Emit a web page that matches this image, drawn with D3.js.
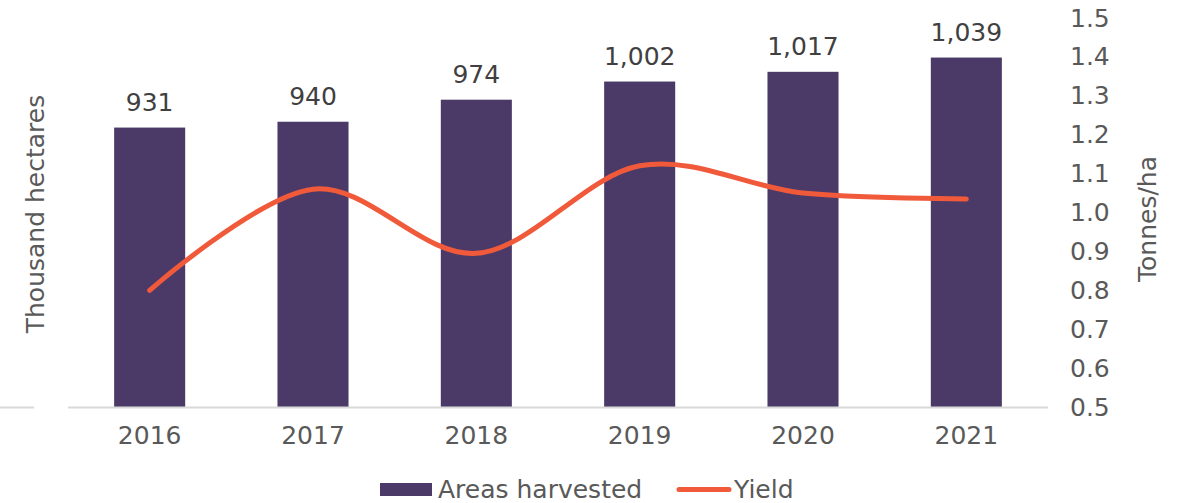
<!DOCTYPE html>
<html>
<head>
<meta charset="utf-8">
<script src="https://cdn.jsdelivr.net/npm/d3@7.9.0/dist/d3.min.js"></script>
<style>
  body { margin: 0; background: #fff; }
  svg { display: block; font-family: "DejaVu Sans", sans-serif; }
</style>
</head>
<body>
<svg id="chart" width="1178" height="503"></svg>
<script>
const years = ['2016', '2017', '2018', '2019', '2020', '2021'];
const areas = [931, 940, 974, 1002, 1017, 1039];
const yields = [0.80, 1.06, 0.895, 1.12, 1.05, 1.035];
const yieldTicks = [0.5, 0.6, 0.7, 0.8, 0.9, 1.0, 1.1, 1.2, 1.3, 1.4, 1.5];

const barColor = '#4b3a68';
const lineColor = '#f05a3a';
const fontSize = 25;

const svg = d3.select('#chart');
const plotLeft = 68, plotRight = 1048, plotTop = 18, plotBottom = 407;

let x = d3.scaleBand().domain(years).range([plotLeft, plotRight]).paddingInner(0.565).paddingOuter(0.2825);
let yLeft = d3.scaleLinear().domain([500, 1100]).range([plotBottom, plotTop]);
let yRight = d3.scaleLinear().domain([0.5, 1.5]).range([plotBottom, plotTop]);

// bars
svg.selectAll('rect.bar')
  .data(years)
  .join('rect')
  .attr('class', 'bar')
  .attr('x', d => x(d))
  .attr('width', x.bandwidth())
  .attr('y', (d, i) => yLeft(areas[i]))
  .attr('height', (d, i) => plotBottom - yLeft(areas[i]))
  .attr('fill', barColor);

// bar value labels
svg.selectAll('text.val')
  .data(years)
  .join('text')
  .attr('class', 'val')
  .attr('x', d => x(d) + x.bandwidth() / 2)
  .attr('y', (d, i) => yLeft(areas[i]) - 17)
  .attr('text-anchor', 'middle')
  .attr('font-size', fontSize)
  .attr('fill', '#404040')
  .text((d, i) => d3.format(',')(areas[i]));

// baseline
svg.append('line')
  .attr('x1', plotLeft).attr('x2', plotRight)
  .attr('y1', plotBottom + 0.5).attr('y2', plotBottom + 0.5)
  .attr('stroke', '#d9d9d9').attr('stroke-width', 2);
svg.append('line')
  .attr('x1', 0).attr('x2', 34)
  .attr('y1', plotBottom + 0.5).attr('y2', plotBottom + 0.5)
  .attr('stroke', '#d9d9d9').attr('stroke-width', 2);

// x axis
let xAxis = svg.append('g')
  .attr('transform', `translate(0,${plotBottom})`)
  .call(d3.axisBottom(x).tickSize(0).tickPadding(19));
xAxis.select('.domain').remove();
xAxis.selectAll('text')
  .attr('font-size', fontSize)
  .attr('font-family', '"DejaVu Sans", sans-serif')
  .attr('fill', '#595959');

// right axis
let yAxis = svg.append('g')
  .attr('transform', `translate(1070,0)`)
  .call(d3.axisRight(yRight).tickValues(yieldTicks).tickFormat(d3.format('.1f')).tickSize(0).tickPadding(0));
yAxis.select('.domain').remove();
yAxis.selectAll('text')
  .attr('font-size', fontSize)
  .attr('font-family', '"DejaVu Sans", sans-serif')
  .attr('fill', '#595959');

// yield line
let line = d3.line()
  .x((d, i) => x(years[i]) + x.bandwidth() / 2)
  .y(d => yRight(d))
  .curve(d3.curveCardinal.tension(0));

svg.append('path')
  .datum(yields)
  .attr('d', line)
  .attr('fill', 'none')
  .attr('stroke', lineColor)
  .attr('stroke-width', 5)
  .attr('stroke-linecap', 'round');

// axis titles
svg.append('text')
  .attr('transform', 'translate(44,214) rotate(-90)')
  .attr('text-anchor', 'middle')
  .attr('font-size', fontSize)
  .attr('fill', '#595959')
  .text('Thousand hectares');

svg.append('text')
  .attr('transform', 'translate(1156,219) rotate(-90)')
  .attr('text-anchor', 'middle')
  .attr('font-size', fontSize)
  .attr('fill', '#595959')
  .text('Tonnes/ha');

// legend
let legend = svg.append('g');
legend.append('rect')
  .attr('x', 380).attr('y', 483).attr('width', 52).attr('height', 13)
  .attr('fill', barColor);
legend.append('text')
  .attr('x', 438).attr('y', 498)
  .attr('font-size', fontSize).attr('fill', '#595959')
  .text('Areas harvested');
legend.append('line')
  .attr('x1', 679).attr('x2', 729).attr('y1', 489.5).attr('y2', 489.5)
  .attr('stroke', lineColor).attr('stroke-width', 5).attr('stroke-linecap', 'round');
legend.append('text')
  .attr('x', 734).attr('y', 498)
  .attr('font-size', fontSize).attr('fill', '#595959')
  .text('Yield');
</script>
</body>
</html>
